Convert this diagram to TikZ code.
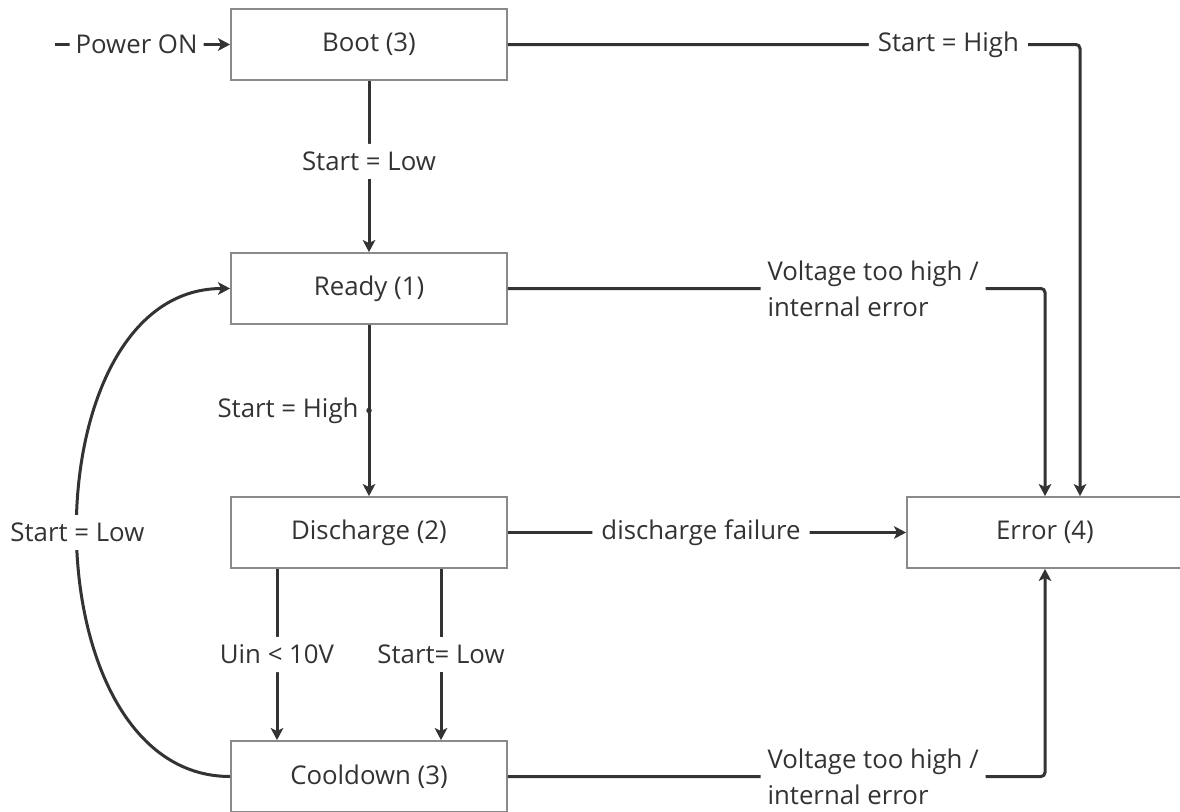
\documentclass[tikz,border=0pt]{standalone}
\usepackage{fontspec}
\setmainfont{Open Sans}
\usetikzlibrary{arrows.meta,calc}
\definecolor{ink}{HTML}{333333}
\definecolor{boxline}{HTML}{8A8A8A}
\begin{document}
\begin{tikzpicture}[x=1pt,y=-1pt,
  every node/.style={font=\fontsize{25.8}{36}\selectfont, text=ink},
  state/.style={draw=boxline, line width=1.8pt, fill=white, minimum width=276pt, minimum height=71pt, inner sep=0pt},
  conn/.style={draw=ink, line width=3pt, -{Stealth[length=12pt,width=12.5pt,inset=3pt]}, rounded corners=4pt},
  lbl/.style={fill=white, inner xsep=9pt, inner ysep=8pt},
  two/.style={align=left, inner xsep=7pt, inner ysep=2pt},
]
\useasboundingbox (0,0) rectangle (1180,811);
\fill[white] (0,0) rectangle (1180,811);
\clip (0,0) rectangle (1180,811);

% states
\node[state] (boot)  at (369,44.5)  {Boot (3)};
\node[state] (ready) at (369,288.5) {Ready (1)};
\node[state] (dis)   at (369,532.5) {Discharge (2)};
\node[state] (cool)  at (369,776.5) {Cooldown (3)};
\node[state] (err)   at (1045,532.5) {Error (4)};

\coordinate (pw) at (55,44.5);
\coordinate (errB) at ($(err.north)+(35,0)$);

% Power ON
\draw[conn] (pw) -- node[lbl,pos=0.466,inner xsep=6pt] (lpw) {Power ON} (boot.west);

% Boot -> Ready
\draw[conn] (boot.south) -- node[lbl,pos=0.47] (lbr) {Start = Low} (ready.north);

% Boot -> Error
\draw[conn] (boot.east) -- node[lbl,pos=0.77] (lbe) {Start = High} (boot.east -| errB) -- (errB);

% Ready -> Error
\draw[conn] (ready.east) -- node[fill=white,two,pos=0.68] (lre) {Voltage too high /\\internal error} (ready.east -| err.north) -- (err.north);

% Ready -> Discharge
\draw[conn] (ready.south) -- node[pos=0.5,anchor=east,inner xsep=9pt] (lrd) {Start = High} (dis.north);
\node[circle,fill=ink,inner sep=0pt,minimum size=5.5pt] (dot) at ($(ready.south)!0.5!(dis.north)$) {};

% Discharge -> Error
\draw[conn] (dis.east) -- node[lbl,pos=0.485] (lde) {discharge failure} (err.west);

% Discharge -> Cooldown
\draw[conn] ($(dis.south)+(-92,0)$) -- node[lbl,pos=0.5] (ldc1) {Uin < 10V} ($(cool.north)+(-92,0)$);
\draw[conn] ($(dis.south)+(72,0)$) -- node[lbl,pos=0.5] (ldc2) {Start= Low} ($(cool.north)+(72,0)$);

% Cooldown -> Error
\draw[conn] (cool.east) -- node[fill=white,two,pos=0.68] (lce) {Voltage too high /\\internal error} (cool.east -| err.south) -- (err.south);

% Cooldown -> Ready
\draw[conn] (cool.west) to[out=180,in=180,looseness=1.07] node[lbl,pos=0.5] (lcr) {Start = Low} (ready.west);
\end{tikzpicture}
\end{document}
